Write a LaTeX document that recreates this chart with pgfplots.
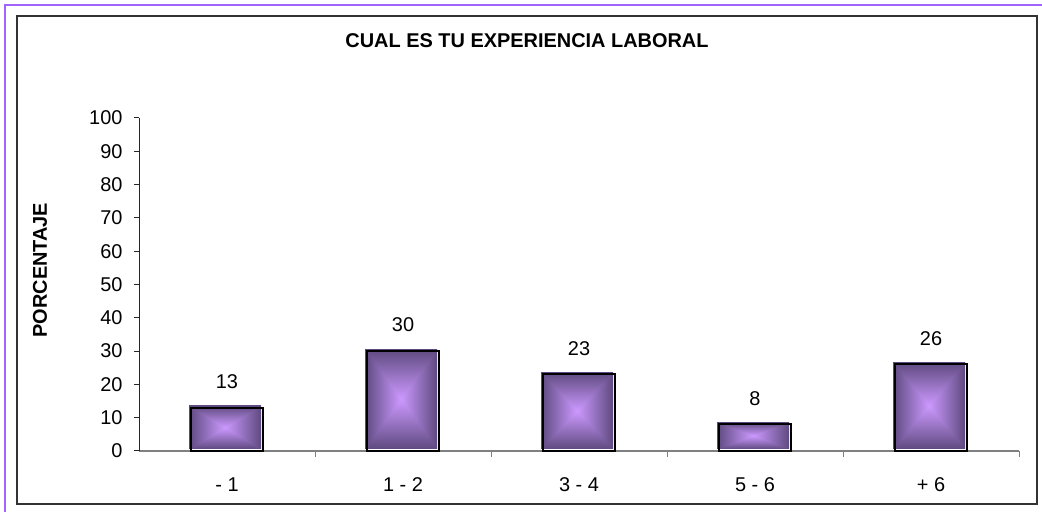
\documentclass[border=0pt]{standalone}
\usepackage{pgfplots}
\pgfplotsset{compat=1.18}
\usepackage{fontspec}
\setmainfont{Liberation Sans}
\definecolor{purpleframe}{RGB}{160,100,255}
\definecolor{framegray}{RGB}{51,51,51}
\definecolor{axisgray}{RGB}{128,128,128}
\pgfdeclarefunctionalshading{pyr}{\pgfpoint{-50bp}{-50bp}}{\pgfpoint{50bp}{50bp}}{}{
abs exch abs 2 copy gt {pop} {exch pop} ifelse 25 div dup 1 gt {pop 1} if
dup dup -0.43 mul 0.80 add 3 1 roll -0.31 mul 0.60 add exch -0.50 mul 1.00 add
}
\begin{document}
\begin{tikzpicture}[x=1bp,y=1bp]
\path[use as bounding box] (0,0) rectangle (1042,512);
\draw[purpleframe, line width=2.5bp] (5,0) -- (5,507) -- (1042,507);
\draw[framegray, line width=2bp] (17,8) rectangle (1037,496);
\begin{axis}[
  at={(139bp,61bp)}, anchor=south west,
  scale only axis, width=880bp, height=333bp,
  xmin=-0.5, xmax=4.5, ymin=0, ymax=100,
  axis lines*=left,
  x axis line style={axisgray, line width=1.2bp},
  y axis line style={black!85, line width=1bp},
  xtick={0,1,2,3,4},
  xticklabels={- 1, 1 - 2, 3 - 4, 5 - 6, + 6},
  major x tick style={draw=none},
  minor xtick={0.5,1.5,2.5,3.5,4.5},
  minor x tick style={axisgray, line width=1bp},
  minor tick length=6bp,
  ytick={0,10,...,100},
  major tick length=5bp,
  y tick style={black!85, line width=1bp},
  tick align=outside,
  font=\fontsize{20}{24}\selectfont,
  /pgf/number format/assume math mode=true,
  xticklabel style={anchor=base, yshift=-36bp},
  yticklabel style={anchor=east, xshift=-8bp},
  title={\bfseries CUAL ES TU EXPERIENCIA LABORAL},
  title style={font=\fontsize{20}{24}\selectfont, at={(axis description cs:0.4409,1.213)}, anchor=center},
  ylabel={\bfseries PORCENTAJE},
  ylabel style={font=\fontsize{18}{21}\selectfont},
  every axis y label/.style={at={(axis description cs:0,0.543)}, xshift=-99bp, rotate=90, anchor=center},
  clip=false,
  barfill/.style={ybar, bar width=72bp, bar shift=-2bp, yshift=2bp, draw=none,
    shading=pyr, shade},
]
\addplot[barfill] coordinates {(0,13)};
\addplot[barfill] coordinates {(1,30)};
\addplot[barfill] coordinates {(2,23)};
\addplot[barfill] coordinates {(3,8)};
\addplot[barfill] coordinates {(4,26)};
\addplot[ybar, bar width=72bp, bar shift=0pt, draw=black, line width=2bp, fill=none,
  nodes near coords, every node near coord/.append style={anchor=center, yshift=26bp, black, font=\fontsize{20}{24}\selectfont}]
  coordinates {(0,13) (1,30) (2,23) (3,8) (4,26)};
\end{axis}
\end{tikzpicture}
\end{document}
